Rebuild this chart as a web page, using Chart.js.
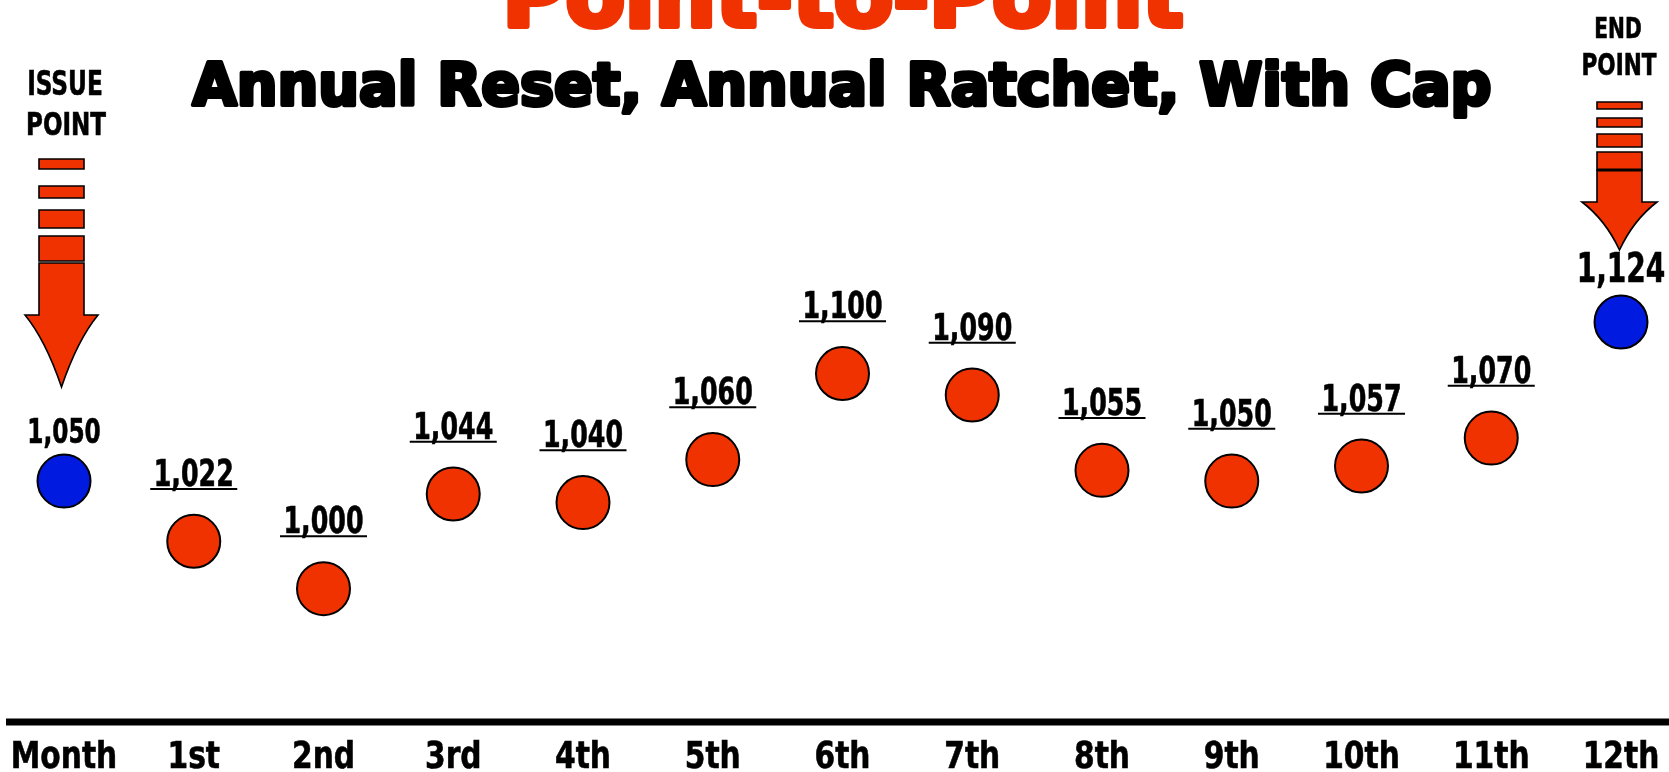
<!DOCTYPE html>
<html>
<head>
<meta charset="utf-8">
<title>Point-to-Point</title>
<script src="https://cdn.jsdelivr.net/npm/chart.js@4.4.1/dist/chart.umd.min.js"></script>
<style>
  html, body { margin: 0; padding: 0; background: #ffffff; overflow: hidden; }
  #wrap { width: 1669px; height: 772px; }
</style>
</head>
<body>
<div id="wrap"><canvas id="chart" width="1669" height="772"></canvas></div>
<script>
// ---- data ----
const months = ['Month', '1st', '2nd', '3rd', '4th', '5th', '6th', '7th', '8th', '9th', '10th', '11th', '12th'];
const indexValues = [1050, 1022, 1000, 1044, 1040, 1060, 1100, 1090, 1055, 1050, 1057, 1070, 1124];
const valueLabels = indexValues.map(v => v.toLocaleString('en-US'));
const titleText = 'Point-to-Point';
const subtitleText = 'Annual Reset, Annual Ratchet, With Cap';
const startCaption = ['ISSUE', 'POINT'];
const endCaption = ['END', 'POINT'];

// ---- styles ----
const NARROW = "'DejaVu Sans Condensed', 'Liberation Sans Narrow', sans-serif";
const HEAVY = "'DejaVu Sans', 'Liberation Sans', sans-serif";
const RED = 'rgb(240, 50, 0)';
const BLUE = 'rgb(0, 26, 224)';
const lastIdx = indexValues.length - 1;
const pointFill = indexValues.map((v, i) => (i === 0 || i === lastIdx) ? BLUE : RED);

// heavy headline text, fitted to a target width and thickened with an outline
function headline(ctx, text, size, cx, baseline, width, color, weightPx) {
  ctx.save();
  ctx.font = `bold ${size}px ${HEAVY}`;
  const w = ctx.measureText(text).width;
  ctx.translate(cx, baseline);
  ctx.scale((width - weightPx) / w, 1);
  ctx.textAlign = 'center';
  ctx.textBaseline = 'alphabetic';
  ctx.fillStyle = color;
  ctx.strokeStyle = color;
  ctx.lineWidth = weightPx;
  ctx.lineJoin = 'round';
  ctx.fillText(text, 0, 0);
  ctx.strokeText(text, 0, 0);
  ctx.restore();
}

// condensed bold label, compressed horizontally by `squeeze`; returns drawn width
function narrow(ctx, text, cx, baseline, size, squeeze) {
  ctx.save();
  ctx.font = `bold ${size}px ${NARROW}`;
  const w = ctx.measureText(text).width * squeeze;
  ctx.translate(cx, baseline);
  ctx.scale(squeeze, 1);
  ctx.textAlign = 'center';
  ctx.textBaseline = 'alphabetic';
  ctx.fillStyle = '#000';
  ctx.strokeStyle = '#000';
  ctx.lineWidth = 0.6;
  ctx.fillText(text, 0, 0);
  ctx.strokeText(text, 0, 0);
  ctx.restore();
  return w;
}

// striped down-arrow: bars, shaft and a concave head
function drawArrow(ctx, cx, s) {
  ctx.save();
  ctx.fillStyle = RED;
  ctx.strokeStyle = '#000';
  ctx.lineWidth = 1.6;
  ctx.lineJoin = 'miter';
  s.bars.forEach(([t, b]) => {
    ctx.beginPath();
    ctx.rect(cx - s.half, t, s.half * 2, b - t);
    ctx.fill();
    ctx.stroke();
  });
  ctx.beginPath();
  ctx.moveTo(cx - s.half, s.shaftTop);
  ctx.lineTo(cx + s.half, s.shaftTop);
  ctx.lineTo(cx + s.half, s.headTop);
  ctx.lineTo(cx + s.headHalf, s.headTop);
  ctx.quadraticCurveTo(cx + s.ctrlDx, s.ctrlY, cx, s.tip);
  ctx.quadraticCurveTo(cx - s.ctrlDx, s.ctrlY, cx - s.headHalf, s.headTop);
  ctx.lineTo(cx - s.half, s.headTop);
  ctx.closePath();
  ctx.fill();
  ctx.stroke();
  if (s.joinLine) {
    ctx.lineWidth = 3.2;
    ctx.beginPath();
    ctx.moveTo(cx - s.half, s.shaftTop);
    ctx.lineTo(cx + s.half, s.shaftTop);
    ctx.stroke();
  }
  ctx.restore();
}

const decorPlugin = {
  id: 'decor',
  beforeDatasetsDraw(chart) {
    const ctx = chart.ctx;
    const area = chart.chartArea;
    const xs = chart.scales.x;

    // titles
    headline(ctx, titleText, 87, 843, 26, 687, RED, 6);
    headline(ctx, subtitleText, 58, 842, 105, 1303, '#000', 4);

    // baseline rule
    ctx.save();
    ctx.fillStyle = '#000';
    ctx.fillRect(6, area.bottom - 3.5, chart.width - 6, 7);
    ctx.restore();

    // month labels under the rule, one per category tick
    xs.ticks.forEach((t, i) => {
      narrow(ctx, months[t.value], xs.getPixelForTick(i), 768, 37.5, 0.88);
    });

    // start / end captions and arrows
    const x0 = xs.getPixelForValue(0);
    const x1 = xs.getPixelForValue(lastIdx);
    narrow(ctx, startCaption[0], x0 + 1, 95, 34, 0.76);
    narrow(ctx, startCaption[1], x0 + 2, 135, 32, 0.8);
    narrow(ctx, endCaption[0], x1 - 3, 38, 28, 0.8);
    narrow(ctx, endCaption[1], x1 - 2, 75, 30, 0.8);

    drawArrow(ctx, x0 - 2.5, {
      bars: [[159, 169], [186, 198], [210, 228], [236, 261]],
      half: 22.5, shaftTop: 263, headTop: 315, headHalf: 36.5,
      ctrlDx: 16, ctrlY: 340, tip: 387, joinLine: false
    });
    drawArrow(ctx, x1 - 1.5, {
      bars: [[102, 109], [118, 127], [134, 147], [152, 170]],
      half: 22.5, shaftTop: 170, headTop: 202, headHalf: 37.5,
      ctrlDx: 14, ctrlY: 220, tip: 250, joinLine: true
    });
  },
  afterDatasetsDraw(chart) {
    const ctx = chart.ctx;
    const meta = chart.getDatasetMeta(0);
    ctx.save();
    ctx.strokeStyle = '#000';
    meta.data.forEach((pt, i) => {
      const first = i === 0;
      const last = i === lastIdx;
      const size = first ? 34 : (last ? 41 : 37);
      const baseline = pt.y - (first ? 38 : (last ? 40 : 55.5));
      const w = narrow(ctx, valueLabels[i], pt.x, baseline, size, 0.76);
      if (!first && !last) {
        ctx.lineWidth = 2;
        ctx.beginPath();
        ctx.moveTo(pt.x - w / 2 - 3.5, pt.y - 52.3);
        ctx.lineTo(pt.x + w / 2 + 3.5, pt.y - 52.3);
        ctx.stroke();
      }
    });
    ctx.restore();
  }
};

new Chart(document.getElementById('chart'), {
  type: 'line',
  data: {
    labels: months,
    datasets: [{
      label: 'Index value',
      data: indexValues,
      showLine: false,
      clip: false,
      pointRadius: 26.5,
      pointHoverRadius: 26.5,
      pointBorderWidth: 2,
      pointBorderColor: '#000',
      pointBackgroundColor: pointFill
    }]
  },
  options: {
    responsive: false,
    animation: false,
    events: [],
    layout: { padding: { top: 100, left: 64, right: 48, bottom: 0 } },
    plugins: {
      legend: { display: false },
      title: { display: false },
      tooltip: { enabled: false }
    },
    scales: {
      x: {
        type: 'category',
        offset: false,
        grid: { display: false, drawTicks: false, tickLength: 0 },
        border: { display: false },
        ticks: { display: false, autoSkip: false, maxRotation: 0 },
        afterFit(scale) { scale.height = 50; }
      },
      y: {
        display: false,
        min: 938,
        max: 1227.2
      }
    }
  },
  plugins: [decorPlugin]
});
</script>
</body>
</html>
